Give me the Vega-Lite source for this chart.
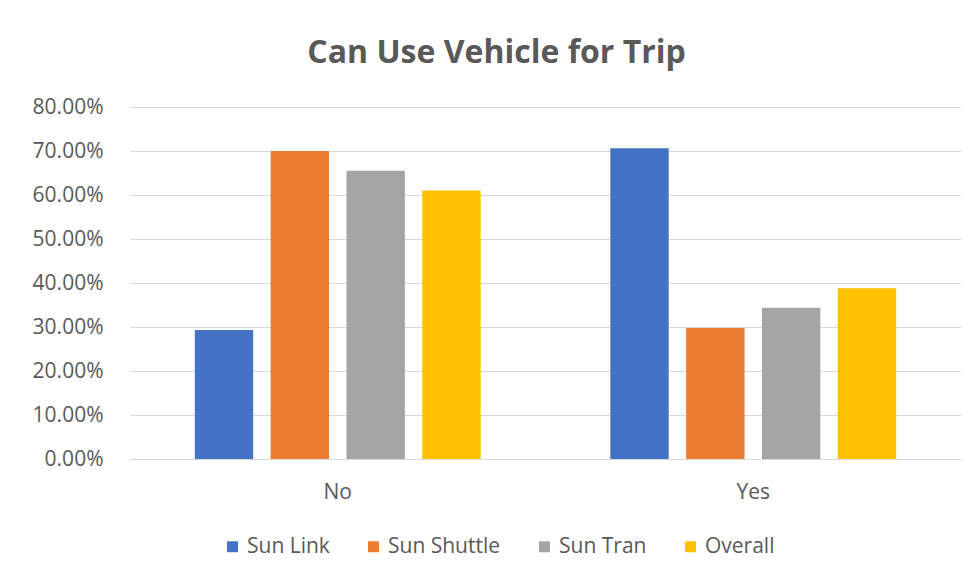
{
  "$schema": "https://vega.github.io/schema/vega-lite/v6.json",
  "autosize": "none",
  "width": 831,
  "height": 352,
  "padding": {"left": 130, "top": 107, "right": 13, "bottom": 124},
  "background": "white",
  "title": {
    "text": "Can Use Vehicle for Trip",
    "anchor": "middle",
    "frame": "bounds",
    "font": "Open Sans",
    "fontSize": 32,
    "fontWeight": "bold",
    "color": "#595959",
    "offset": 26
  },
  "data": {
    "values": [
      {"answer": "No", "group": "Sun Link", "share": 0.293},
      {"answer": "No", "group": "Sun Shuttle", "share": 0.700},
      {"answer": "No", "group": "Sun Tran", "share": 0.655},
      {"answer": "No", "group": "Overall", "share": 0.610},
      {"answer": "Yes", "group": "Sun Link", "share": 0.706},
      {"answer": "Yes", "group": "Sun Shuttle", "share": 0.298},
      {"answer": "Yes", "group": "Sun Tran", "share": 0.344},
      {"answer": "Yes", "group": "Overall", "share": 0.388}
    ]
  },
  "mark": {"type": "bar"},
  "encoding": {
    "x": {
      "field": "answer",
      "type": "nominal",
      "scale": {"paddingInner": 0.27, "paddingOuter": 0.135},
      "axis": {
        "title": null,
        "labelAngle": 0,
        "ticks": false,
        "domainColor": "#D9D9D9",
        "labelFont": "Open Sans",
        "labelFontSize": 21,
        "labelColor": "#595959",
        "labelPadding": 22
      }
    },
    "xOffset": {
      "field": "group",
      "type": "nominal",
      "sort": ["Sun Link", "Sun Shuttle", "Sun Tran", "Overall"],
      "scale": {"paddingInner": 0.23, "paddingOuter": 0.115}
    },
    "y": {
      "field": "share",
      "type": "quantitative",
      "scale": {"domain": [0, 0.8], "nice": false},
      "axis": {
        "title": null,
        "values": [0, 0.1, 0.2, 0.3, 0.4, 0.5, 0.6, 0.7, 0.8],
        "format": ".2%",
        "ticks": false,
        "domain": false,
        "gridColor": "#D9D9D9",
        "labelFont": "Open Sans",
        "labelFontSize": 21,
        "labelColor": "#595959",
        "labelPadding": 27
      }
    },
    "color": {
      "field": "group",
      "type": "nominal",
      "sort": ["Sun Link", "Sun Shuttle", "Sun Tran", "Overall"],
      "scale": {
        "domain": ["Sun Link", "Sun Shuttle", "Sun Tran", "Overall"],
        "range": ["#4472C4", "#ED7D31", "#A5A5A5", "#FFC000"]
      },
      "legend": {
        "title": null,
        "orient": "none",
        "direction": "horizontal",
        "legendX": 92,
        "legendY": 429,
        "symbolType": "square",
        "symbolSize": 120,
        "symbolStrokeWidth": 0,
        "labelFont": "Open Sans",
        "labelFontSize": 21,
        "labelColor": "#595959",
        "labelOffset": 4,
        "columnPadding": 33
      }
    }
  },
  "config": {
    "view": {"stroke": null}
  }
}
